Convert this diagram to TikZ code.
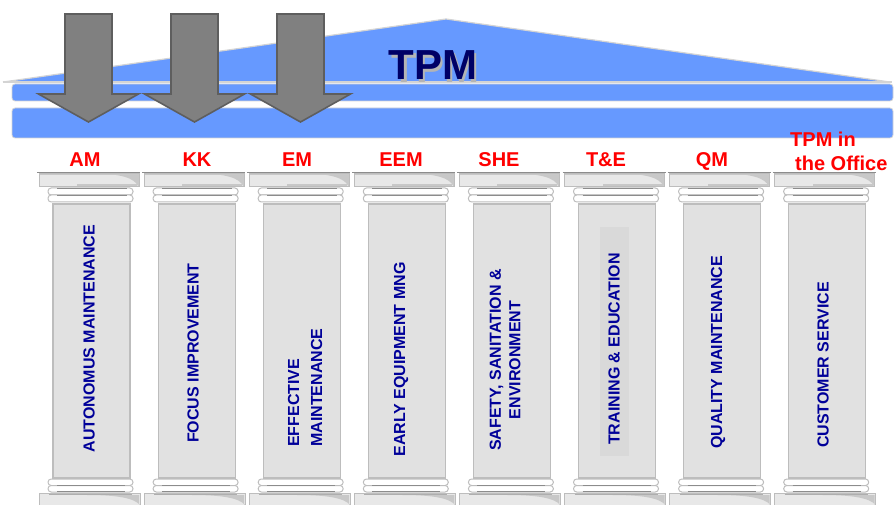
\documentclass[tikz,border=0pt]{standalone}
\usepackage{fontspec}
\setmainfont{Liberation Sans}

\definecolor{roofblue}{HTML}{6699FF}
\definecolor{roofedge}{HTML}{D4D4D4}
\definecolor{titlenavy}{HTML}{000066}
\definecolor{titleshadow}{HTML}{B4B4B4}
\definecolor{pillartext}{HTML}{000099}
\definecolor{arrowgray}{HTML}{808080}
\definecolor{arrowedge}{HTML}{5E5E5E}
\definecolor{stonelight}{HTML}{E8E8E8}
\definecolor{stoneshaft}{HTML}{E1E1E1}
\definecolor{stoneedge}{HTML}{BDBDBD}
\definecolor{stoneshade}{HTML}{C8C8C8}
\definecolor{stonedark}{HTML}{8C8C8C}
\definecolor{panelgray}{HTML}{D9D9D9}

\tikzset{
  band/.style={fill=roofblue, draw=roofedge, line width=0.8pt, rounded corners=3pt},
  downarrow/.style={fill=arrowgray, draw=arrowedge, line width=1.6pt, line join=miter},
  titletext/.style={inner sep=0pt, anchor=base, font=\fontsize{42}{48}\selectfont\bfseries},
  pillarlabel/.style={inner sep=0pt, anchor=base, text=red, font=\fontsize{20}{24}\selectfont\bfseries},
  shafttext/.style={rotate=90, inner sep=0pt, text=pillartext, font=\fontsize{16}{19.5}\selectfont\bfseries},
  ring/.style={fill=white, draw=stoneedge, line width=1pt, rounded corners=3.2pt},
  shaft/.style={fill=stoneshaft, draw=stoneedge, line width=1.2pt},
}

% title text with a soft drop shadow, set as one box
\newcommand\shadowtitle[1]{%
  \makebox[0pt][l]{\hspace{2.5pt}\raisebox{-2.5pt}{\textcolor{titleshadow}{#1}}}%
  \textcolor{titlenavy}{#1}}

% one column: capital, shaft and base, drawn in local coordinates
\newcommand\pillarcolumn{%
  % capital: abacus block
  \fill[stonelight] (2,173) rectangle (102,186);
  \fill[stoneshade] (2,173) rectangle (102,175.5);
  \fill[stoneshade] (55,173) .. controls (85,174) and (97,178) .. (101,186) -- (102,186) -- (102,173) -- cycle;
  \fill[stoneshade] (40,184) rectangle (100,186);
  \draw[stonedark, line width=1.4pt] (0,172.5) -- (103,172.5);
  \draw[stoneedge, line width=0.6pt] (2,173) rectangle (102,186);
  % capital: two rings
  \draw[ring] (11,188) rectangle (96,195);
  \draw[ring] (11,195) rectangle (96,202);
  \draw[stonedark, line width=1pt] (20,188.7) -- (90,188.7);
  \draw[stonedark, line width=1pt] (20,195.6) -- (90,195.6);
  % shaft
  \draw[shaft] (16,204) rectangle (93,478);
  % base: two rings
  \draw[ring] (11,479) rectangle (96,485.5);
  \draw[ring] (11,485.5) rectangle (96,492);
  \draw[stonedark, line width=1pt] (20,485.2) -- (88,485.2);
  \draw[stonedark, line width=1pt] (20,491.6) -- (88,491.6);
  % base: plinth block
  \fill[stonelight] (2,493) rectangle (103,508);
  \fill[stoneshade] (50,495) .. controls (80,495) and (97,498) .. (103,505) -- (103,508) -- (102,508) -- (102,495) -- cycle;
  \draw[stoneedge, line width=0.8pt] (2,508) -- (2,493) -- (103,493) -- (103,508);
  \draw[stonedark!70, line width=1pt] (12,494) -- (95,494);
}

\begin{document}
\begin{tikzpicture}[x=1pt, y=-1pt]
\useasboundingbox (0,0) rectangle (895,505);

% roof
\fill[roofblue] (3,82) -- (446,19) -- (890,82) -- cycle;
\draw[roofedge, line width=1.2pt] (3,82) -- (446,19) -- (890,82);
\draw[roofedge, line width=1.5pt] (3,82) -- (892,82);

% architrave bands
\draw[band] (12,84) rectangle (893,101);
\draw[band] (12,108) rectangle (893,138);

% title
\node[titletext] (tpm) at (433,80) {\shadowtitle{TPM}};

% downward arrows
\foreach \cx in {88.5,194.5,300.5} {
  \draw[downarrow] ({\cx-23.5},14) -- ({\cx+23.5},14) -- ({\cx+23.5},94)
    -- ({\cx+50},94) -- (\cx,122) -- ({\cx-50},94) -- ({\cx-23.5},94) -- cycle;
}

% columns
\foreach \px in {37,142.1,247.2,352.3,457.4,562.5,667.6,772.7} {
  \begin{scope}[shift={(\px,0)}]
    \pillarcolumn
  \end{scope}
}

% darker panel behind the training label
\fill[panelgray] (600,227) rectangle (629,456);

% pillar headings
\node[pillarlabel] (am)  at (85,167)  {AM};
\node[pillarlabel] (kk)  at (197,167) {KK};
\node[pillarlabel] (em)  at (297,167) {EM};
\node[pillarlabel] (eem) at (401,167) {EEM};
\node[pillarlabel] (she) at (499,167) {SHE};
\node[pillarlabel] (te)  at (606,167) {T\&E};
\node[pillarlabel] (qm)  at (712,167) {QM};
\node[pillarlabel, anchor=base west] (office1) at (790,147) {TPM in};
\node[pillarlabel, anchor=base west] (office2) at (795,171) {the Office};

% pillar captions
\node[shafttext] (autonomus) at (89,338.5) {AUTONOMUS MAINTENANCE};
\node[shafttext] (focus) at (193,353) {FOCUS IMPROVEMENT};
\node[shafttext, align=left, anchor=west, font=\fontsize{16}{23}\selectfont\bfseries] (effective) at (305,447) {EFFECTIVE\\MAINTENANCE};
\node[shafttext] (early) at (401,359.5) {EARLY EQUIPMENT MNG};
\node[shafttext, align=center] (safety) at (505,360) {SAFETY, SANITATION \&\\ENVIRONMENT};
\node[shafttext] (training) at (614,349) {TRAINING \& EDUCATION};
\node[shafttext] (quality) at (718,352.5) {QUALITY MAINTENANCE};
\node[shafttext] (customer) at (823,365) {CUSTOMER SERVICE};
\end{tikzpicture}
\end{document}
